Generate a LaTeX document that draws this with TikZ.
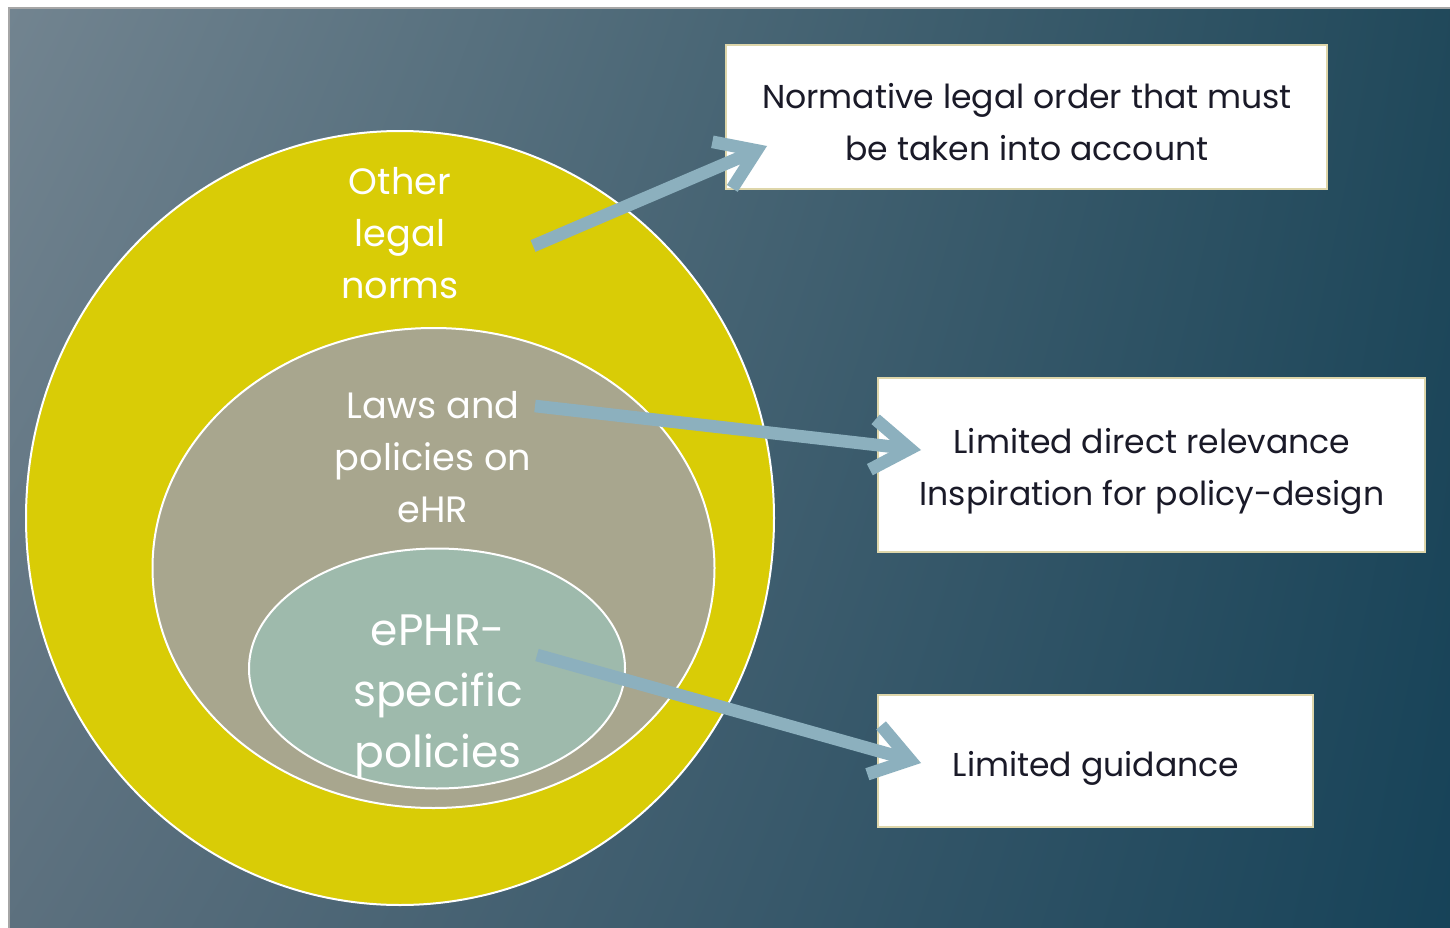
\documentclass[tikz,border=0pt]{standalone}
\usepackage{fontspec}
\setmainfont{Poppins}
\usetikzlibrary{shapes.geometric,arrows.meta,shadings}
\definecolor{bgA}{RGB}{114,132,144}
\definecolor{bgB}{RGB}{32,72,90}
\definecolor{bgC}{RGB}{92,112,126}
\definecolor{bgD}{RGB}{22,66,88}
\definecolor{yel}{RGB}{217,204,6}
\definecolor{tan}{RGB}{168,166,142}
\definecolor{sage}{RGB}{158,186,172}
\definecolor{arr}{RGB}{140,176,190}
\definecolor{boxedge}{RGB}{222,214,170}
\definecolor{boxtext}{RGB}{26,26,40}
\tikzset{
  ring/.style={ellipse, draw=white, line width=1.5pt, inner sep=0pt},
  ringtext/.style={text=white, align=center, font=\fontsize{27.5}{39}\selectfont},
  bigtext/.style={text=white, align=center, font=\fontsize{33}{46}\selectfont},
  infobox/.style={rectangle, fill=white, draw=boxedge, line width=1.5pt, inner sep=0pt},
  boxtxt/.style={align=center, text=boxtext, font=\fontsize{24.8}{39}\selectfont, inner sep=0pt},
  linkarrow/.style={draw=arr, line width=9.5pt, line join=miter,
     -{Straight Barb[length=28pt,width=38pt]}}
}
\begin{document}
\begin{tikzpicture}[x=0.75pt,y=-0.75pt]
\useasboundingbox (0,0) rectangle (1450,928);
\fill[white] (0,0) rectangle (1450,928);
\shade[upper left=bgA, upper right=bgB, lower left=bgC, lower right=bgD] (9,8) rectangle (1462,940);
\draw[gray!70, line width=0.8pt] (9,940) -- (9,8) -- (1462,8);
% ellipses
\node[ring, fill=yel, minimum width=561pt, minimum height=580.5pt] (outer) at (400,518) {};
\node[ring, fill=tan, minimum width=421.5pt, minimum height=360pt] (middle) at (433.5,568) {};
\node[ring, fill=sage, minimum width=282pt, minimum height=180pt] (inner) at (437,668.5) {};
% ellipse labels
\node[ringtext] (t1) at (400,233) {Other\\legal\\norms};
\node[ringtext] (t2) at (433,457) {Laws and\\policies on\\eHR};
\node[bigtext] (t3) at (438,697) {ePHR-\\specific\\policies};
% boxes
\node[infobox, minimum width=450.75pt, minimum height=108pt] (b1) at (1026.5,117) {};
\node[infobox, minimum width=410.25pt, minimum height=130.5pt] (b2) at (1151.5,465) {};
\node[infobox, minimum width=326.25pt, minimum height=99pt] (b3) at (1095.5,761) {};
\node[boxtxt] (bt1) at (1027,122) {Normative legal order that must\\be taken into account};
\node[boxtxt] (bt2) at (1152,471) {Limited direct relevance\\Inspiration for policy-design};
\node[boxtxt] (bt3) at (1096,768) {Limited guidance};
% arrow endpoints
\coordinate (s1) at (533,246);
\coordinate (e1) at (767,146);
\coordinate (s2) at (535,406);
\coordinate (e2) at (921,450);
\coordinate (s3) at (537,655);
\coordinate (e3) at (921,763);
\draw[linkarrow] (s1) -- (e1);
\draw[linkarrow] (s2) -- (e2);
\draw[linkarrow] (s3) -- (e3);
\end{tikzpicture}
\end{document}
